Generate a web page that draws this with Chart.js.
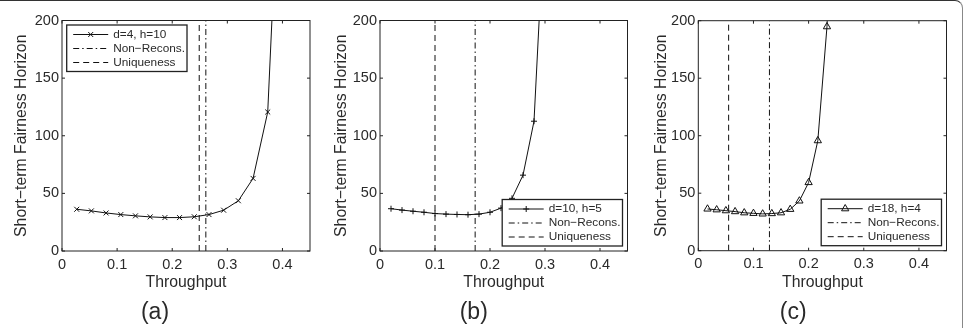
<!DOCTYPE html>
<html>
<head>
<meta charset="utf-8">
<script src="https://cdn.jsdelivr.net/npm/chart.js@4.4.1/dist/chart.umd.min.js"></script>
<style>
  html, body { margin: 0; padding: 0; background: #fff; }
  body { width: 968px; height: 328px; position: relative; overflow: hidden; }
  .panel { position: absolute; top: 0; width: 320px; height: 328px; }
  .frame {
    position: absolute; left: -10px; top: 0; width: 972px; height: 340px;
    border-top: 1.5px solid #333; border-right: 1.5px solid #888;
    border-top-right-radius: 8px; pointer-events: none;
  }
</style>
</head>
<body>
<div class="panel" style="left:0px"><canvas id="chartA" width="320" height="328"></canvas></div>
<div class="panel" style="left:320px"><canvas id="chartB" width="320" height="328"></canvas></div>
<div class="panel" style="left:640px"><canvas id="chartC" width="320" height="328"></canvas></div>
<div class="frame"></div>
<script>
// values
const seriesLabels = ['d=4, h=10', 'd=10, h=5', 'd=18, h=4'];
const panelLetters = ['(a)', '(b)', '(c)'];

const aX = [0.0267, 0.0533, 0.08, 0.1067, 0.1333, 0.16, 0.1867, 0.2133, 0.24, 0.2667, 0.2933, 0.32, 0.3467, 0.3733, 0.40];
const aY = [36.2, 34.8, 33.0, 31.6, 30.5, 29.6, 29.0, 29.0, 29.7, 31.6, 35.4, 43.6, 63.0, 120.6, 400];

const bX = [0.02, 0.04, 0.06, 0.08, 0.10, 0.12, 0.14, 0.16, 0.18, 0.20, 0.22, 0.24, 0.26, 0.28, 0.30];
const bY = [36.7, 35.5, 34.5, 33.6, 32.5, 32.0, 31.7, 31.5, 32.0, 33.6, 37.2, 45.7, 65.8, 112.6, 300];

const cX = [0.0167, 0.0333, 0.05, 0.0667, 0.0833, 0.10, 0.1167, 0.1333, 0.15, 0.1667, 0.1833, 0.20, 0.2167, 0.2333, 0.25];
const cY = [36.3, 35.6, 34.8, 34.0, 33.0, 32.5, 32.0, 32.3, 33.0, 36.0, 43.3, 59.3, 95.7, 194.8, 400];

const nonReconsX = [0.261, 0.173, 0.129];
const uniquenessX = [0.249, 0.10, 0.055];

const xTicks = { min: 0, max: 0.45, step: 0.1 };
const yTicks = { min: 0, max: 200, step: 50 };

Chart.defaults.font.family = '"Liberation Sans", Arial, Helvetica, sans-serif';
Chart.defaults.color = '#2a2a2a';

const TITLE_SIZE = 23;
const TITLE_PAD = 2;

// box around the plot with inward ticks on all four sides
const frameBox = {
  id: 'frameBox',
  afterDatasetsDraw(chart) {
    const { ctx, chartArea: a, scales: { x, y } } = chart;
    ctx.save();
    ctx.strokeStyle = '#222';
    ctx.lineWidth = 1;
    ctx.strokeRect(a.left, a.top, a.width, a.height);
    ctx.beginPath();
    x.ticks.forEach(t => {
      const px = x.getPixelForValue(t.value);
      ctx.moveTo(px, a.bottom); ctx.lineTo(px, a.bottom - 3);
      ctx.moveTo(px, a.top); ctx.lineTo(px, a.top + 3);
    });
    y.ticks.forEach(t => {
      const py = y.getPixelForValue(t.value);
      ctx.moveTo(a.left, py); ctx.lineTo(a.left + 3, py);
      ctx.moveTo(a.right, py); ctx.lineTo(a.right - 3, py);
    });
    ctx.stroke();
    ctx.restore();
  }
};

// matlab style legend box inside the plot
const boxLegend = {
  id: 'boxLegend',
  afterDraw(chart, args, opts) {
    const { ctx, chartArea: a } = chart;
    const sets = chart.data.datasets;
    ctx.save();
    ctx.font = '11.8px "Liberation Sans", Arial, sans-serif';
    const textW = Math.max(...sets.map(d => ctx.measureText(d.label).width));
    const w = 46.5 + textW + 2, h = 46.5;
    const x = opts.corner === 'nw' ? a.left + 4.7 : a.right - 5 - w;
    const y = opts.corner === 'nw' ? a.top + 4.5 : a.bottom - 5 - h;
    ctx.fillStyle = '#fff';
    ctx.fillRect(x, y, w, h);
    ctx.strokeStyle = '#222';
    ctx.lineWidth = 1.3;
    ctx.strokeRect(x, y, w, h);
    sets.forEach((d, i) => {
      const cy = y + 9.5 + i * 14;
      ctx.beginPath();
      ctx.setLineDash(d.borderDash || []);
      ctx.lineWidth = d.borderWidth;
      ctx.strokeStyle = d.borderColor;
      ctx.moveTo(x + 6.5, cy);
      ctx.lineTo(x + 41.5, cy);
      ctx.stroke();
      ctx.setLineDash([]);
      if (d.pointRadius) {
        ctx.fillStyle = 'rgba(0,0,0,0)';
        Chart.helpers.drawPoint(ctx, { pointStyle: d.pointStyle, radius: d.pointRadius, borderWidth: 1, rotation: 0 }, x + 24, cy);
      }
      ctx.fillStyle = '#2a2a2a';
      ctx.textBaseline = 'middle';
      ctx.textAlign = 'left';
      ctx.fillText(d.label, x + 46.5, cy);
    });
    ctx.restore();
  }
};

function vline(label, xv, dash, color) {
  return {
    label: label,
    data: [{ x: xv, y: yTicks.min }, { x: xv, y: yTicks.max }],
    borderColor: color,
    borderWidth: 1,
    borderDash: dash,
    pointRadius: 0
  };
}

function makePanel(id, i, xs, ys, marker, radius, area, corner) {
  const titleH = TITLE_SIZE * 1.2 + TITLE_PAD;
  new Chart(document.getElementById(id), {
    type: 'line',
    data: {
      datasets: [
        {
          label: seriesLabels[i],
          data: xs.map((v, k) => ({ x: v, y: ys[k] })),
          borderColor: '#111',
          borderWidth: 1,
          pointStyle: marker,
          pointRadius: radius,
          pointBorderWidth: 1,
          pointBorderColor: '#111',
          pointBackgroundColor: 'rgba(0,0,0,0)',
          tension: 0
        },
        vline('Non\u2212Recons.', nonReconsX[i], [6, 3, 1.5, 3], '#111'),
        vline('Uniqueness', uniquenessX[i], [6, 4], '#111')
      ]
    },
    options: {
      responsive: false,
      animation: false,
      events: [],
      layout: { padding: { top: area.top, right: 320 - area.right, left: 0, bottom: 0 } },
      scales: {
        x: {
          type: 'linear',
          min: xTicks.min,
          max: xTicks.max,
          grid: { display: false, drawTicks: false },
          border: { display: false },
          ticks: { stepSize: xTicks.step, includeBounds: false, padding: 5, font: { size: 14.5 }, maxRotation: 0 },
          title: { display: true, text: 'Throughput', font: { size: 15.8 }, padding: { top: 0, bottom: 6 } },
          afterFit(s) { s.height = 328 - titleH - area.bottom; }
        },
        y: {
          min: yTicks.min,
          max: yTicks.max,
          grid: { display: false, drawTicks: false },
          border: { display: false },
          ticks: { stepSize: yTicks.step, padding: 3, font: { size: 14.5 } },
          title: { display: true, text: 'Short\u2212term Fairness Horizon', font: { size: 15.8 }, padding: { top: 12.2, bottom: 0 } },
          afterFit(s) { s.width = area.left; }
        }
      },
      plugins: {
        legend: { display: false },
        tooltip: { enabled: false },
        title: {
          display: true,
          text: panelLetters[i],
          position: 'bottom',
          font: { size: TITLE_SIZE, weight: 'normal' },
          color: '#2a2a2a',
          padding: { top: 0, bottom: TITLE_PAD }
        },
        boxLegend: { corner: corner }
      }
    },
    plugins: [frameBox, boxLegend]
  });
}

makePanel('chartA', 0, aX, aY, 'crossRot', 3.5, { left: 62, right: 310, top: 20.5, bottom: 251 }, 'nw');
makePanel('chartB', 1, bX, bY, 'cross', 3, { left: 60, right: 307.5, top: 20.5, bottom: 251 }, 'se');
makePanel('chartC', 2, cX, cY, 'triangle', 4.2, { left: 58.3, right: 306.5, top: 20.7, bottom: 250.7 }, 'se');
</script>
</body>
</html>
